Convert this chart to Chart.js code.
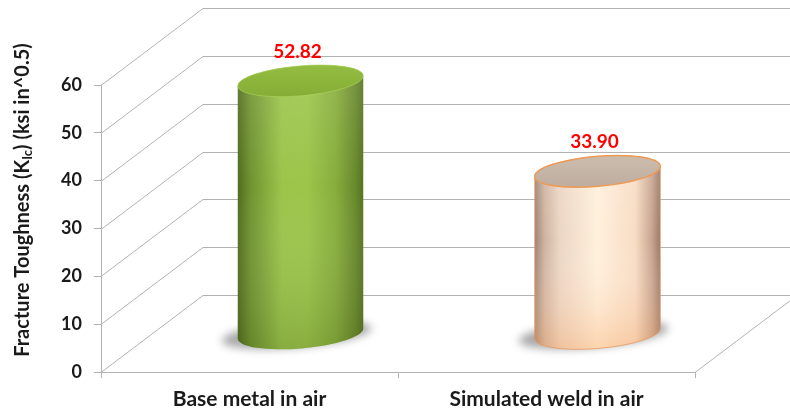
<!DOCTYPE html>
<html>
<head>
<meta charset="utf-8">
<script src="https://cdn.jsdelivr.net/npm/chart.js@4"></script>
<style>
  html, body { margin: 0; padding: 0; background: #ffffff; }
  #wrap { width: 790px; height: 414px; }
</style>
</head>
<body>
<div id="wrap"><canvas id="chart" width="790" height="414"></canvas></div>
<script>
// Fracture toughness results
const categories = ['Base metal in air', 'Simulated weld in air'];
const toughness = [52.82, 33.90];
const yTicks = [0, 10, 20, 30, 40, 50, 60];

// 3D look: depth offset of the back wall, cylinder styling
const DEPTH_X = 102;
const DEPTH_Y = -77;
const GRID = '#b2b2b2';
const FONT = 'Lato, "Open Sans", sans-serif';

const cylinderStyles = [
  {
    side: [[0, '#4f6b1c'], [0.1, '#6f9230'], [0.35, '#9bc44a'], [0.55, '#9cc54a'], [0.78, '#87ad3c'], [0.93, '#6a8a2c'], [1, '#55721f']],
    shade: 'rgba(50,70,10,0.18)',
    top: ['#93bc42', '#86ae36'],
    rim: 'rgba(175,215,95,0.6)'
  },
  {
    side: [[0, '#9e8272'], [0.08, '#cfb4a2'], [0.2, '#ecd5c4'], [0.5, '#fff0dc'], [0.8, '#f8dcc4'], [0.93, '#c8a590'], [1, '#98786a']],
    shade: 'rgba(245,160,90,0.35)',
    top: ['#cbbcaf', '#bfae9f'],
    rim: '#ee9a55'
  }
];

const wallPlugin = {
  id: 'wall3d',
  beforeDatasetsDraw(chart) {
    const ctx = chart.ctx;
    const y = chart.scales.y;
    const area = chart.chartArea;
    ctx.save();
    ctx.strokeStyle = GRID;
    ctx.lineWidth = 1;
    yTicks.forEach(v => {
      const py = Math.round(y.getPixelForValue(v)) + 0.5;
      ctx.beginPath();
      ctx.moveTo(area.left, py);
      ctx.lineTo(area.left + DEPTH_X, py + DEPTH_Y);
      ctx.lineTo(chart.width + 20, py + DEPTH_Y);
      ctx.stroke();
    });
    // right edge of the floor
    const by = Math.round(y.getPixelForValue(0)) + 0.5;
    ctx.beginPath();
    ctx.moveTo(area.right, by);
    ctx.lineTo(area.right + DEPTH_X, by + DEPTH_Y);
    ctx.stroke();
    ctx.restore();
  }
};

const cylinderPlugin = {
  id: 'cylinders',
  afterDatasetsDraw(chart) {
    const ctx = chart.ctx;
    const yScale = chart.scales.y;
    const meta = chart.getDatasetMeta(0);
    const values = chart.data.datasets[0].data;
    const rot = -0.085;
    const ry = 15;
    meta.data.forEach((bar, i) => {
      const st = cylinderStyles[i];
      const v = values[i];
      const cx = bar.x + DEPTH_X / 2;
      const rx = bar.width / 2;
      const yTop = yScale.getPixelForValue(v) + DEPTH_Y / 2;
      const yBot = yScale.getPixelForValue(0) + DEPTH_Y / 2;
      const cosr = Math.cos(rot), sinr = Math.sin(rot);
      const leftTop = [cx - rx * cosr, yTop - rx * sinr];
      const rightTop = [cx + rx * cosr, yTop + rx * sinr];
      const leftBot = [cx - rx * cosr, yBot - rx * sinr];

      // soft floor shadow
      ctx.save();
      ctx.filter = 'blur(4px)';
      ctx.fillStyle = 'rgba(60,60,60,0.45)';
      ctx.beginPath();
      ctx.ellipse(cx - 4, yBot + 1, rx + 12, ry - 2, rot, 0, Math.PI * 2, false);
      ctx.fill();
      ctx.restore();

      // side of the cylinder
      ctx.save();
      ctx.beginPath();
      ctx.moveTo(leftTop[0], leftTop[1]);
      ctx.lineTo(leftBot[0], leftBot[1]);
      ctx.ellipse(cx, yBot, rx, ry, rot, Math.PI, 0, true);
      ctx.lineTo(rightTop[0], rightTop[1]);
      ctx.ellipse(cx, yTop, rx, ry, rot, 0, Math.PI, true);
      ctx.closePath();
      const g = ctx.createLinearGradient(cx - rx, 0, cx + rx, 0);
      st.side.forEach(s => g.addColorStop(s[0], s[1]));
      ctx.fillStyle = g;
      ctx.fill();
      const gv = ctx.createLinearGradient(0, yTop, 0, yBot + ry);
      gv.addColorStop(0, 'rgba(255,255,255,0.10)');
      gv.addColorStop(0.4, 'rgba(255,255,255,0)');
      gv.addColorStop(1, st.shade);
      ctx.fillStyle = gv;
      ctx.fill();
      if (i === 1) {
        ctx.strokeStyle = 'rgba(230,150,90,0.75)';
        ctx.lineWidth = 1;
        ctx.stroke();
      }
      ctx.restore();

      // top face
      ctx.save();
      ctx.beginPath();
      ctx.ellipse(cx, yTop, rx, ry, rot, 0, Math.PI * 2, false);
      const gt = ctx.createLinearGradient(0, yTop - ry, 0, yTop + ry);
      gt.addColorStop(0, st.top[0]);
      gt.addColorStop(1, st.top[1]);
      ctx.fillStyle = gt;
      ctx.fill();
      ctx.strokeStyle = st.rim;
      ctx.lineWidth = i === 1 ? 1.5 : 1;
      ctx.stroke();
      ctx.restore();

      // value label
      ctx.save();
      ctx.fillStyle = '#ff0000';
      ctx.font = 'bold 19px ' + FONT;
      ctx.textAlign = 'center';
      ctx.textBaseline = 'middle';
      ctx.fillText(v.toFixed(2), cx - 3, yTop - 29);
      ctx.restore();
    });
  }
};

const titlePlugin = {
  id: 'yTitle',
  afterDraw(chart) {
    const ctx = chart.ctx;
    const parts = [
      ['Fracture Toughness (K', 20, 0],
      ['Ic', 13, 5],
      [') (ksi in^0.5)', 20, 0]
    ];
    ctx.save();
    let total = 0;
    parts.forEach(p => { ctx.font = 'bold ' + p[1] + 'px ' + FONT; total += ctx.measureText(p[0]).width; });
    ctx.translate(23, 200);
    ctx.rotate(-Math.PI / 2);
    ctx.fillStyle = '#1a1a1a';
    ctx.textBaseline = 'middle';
    ctx.textAlign = 'left';
    let x = -total / 2;
    parts.forEach(p => {
      ctx.font = 'bold ' + p[1] + 'px ' + FONT;
      ctx.fillText(p[0], x, p[2]);
      x += ctx.measureText(p[0]).width;
    });
    ctx.restore();
  }
};

new Chart(document.getElementById('chart'), {
  type: 'bar',
  data: {
    labels: categories,
    datasets: [{
      data: toughness,
      backgroundColor: 'rgba(0,0,0,0)',
      borderWidth: 0,
      categoryPercentage: 1,
      barPercentage: 0.424
    }]
  },
  options: {
    responsive: false,
    animation: false,
    events: [],
    layout: { padding: { top: 85, right: 95, left: 0, bottom: 0 } },
    plugins: { legend: { display: false }, tooltip: { enabled: false } },
    scales: {
      y: {
        min: 0,
        max: 60,
        afterFit(s) { s.width = 101; },
        afterBuildTicks(s) { s.ticks = yTicks.map(v => ({ value: v })); },
        grid: { drawOnChartArea: false, drawTicks: true, tickLength: 7, color: GRID },
        border: { display: true, color: GRID, width: 1 },
        ticks: { color: '#1a1a1a', font: { family: FONT, size: 18, weight: 'bold' }, padding: 12 }
      },
      x: {
        afterFit(s) { s.height = 42; },
        grid: { offset: true, drawOnChartArea: false, drawTicks: true, tickLength: 6, color: GRID },
        border: { display: true, color: GRID, width: 1 },
        ticks: { color: '#1a1a1a', font: { family: FONT, size: 21, weight: 'bold' }, padding: 9 }
      }
    }
  },
  plugins: [wallPlugin, cylinderPlugin, titlePlugin]
});
</script>
</body>
</html>
